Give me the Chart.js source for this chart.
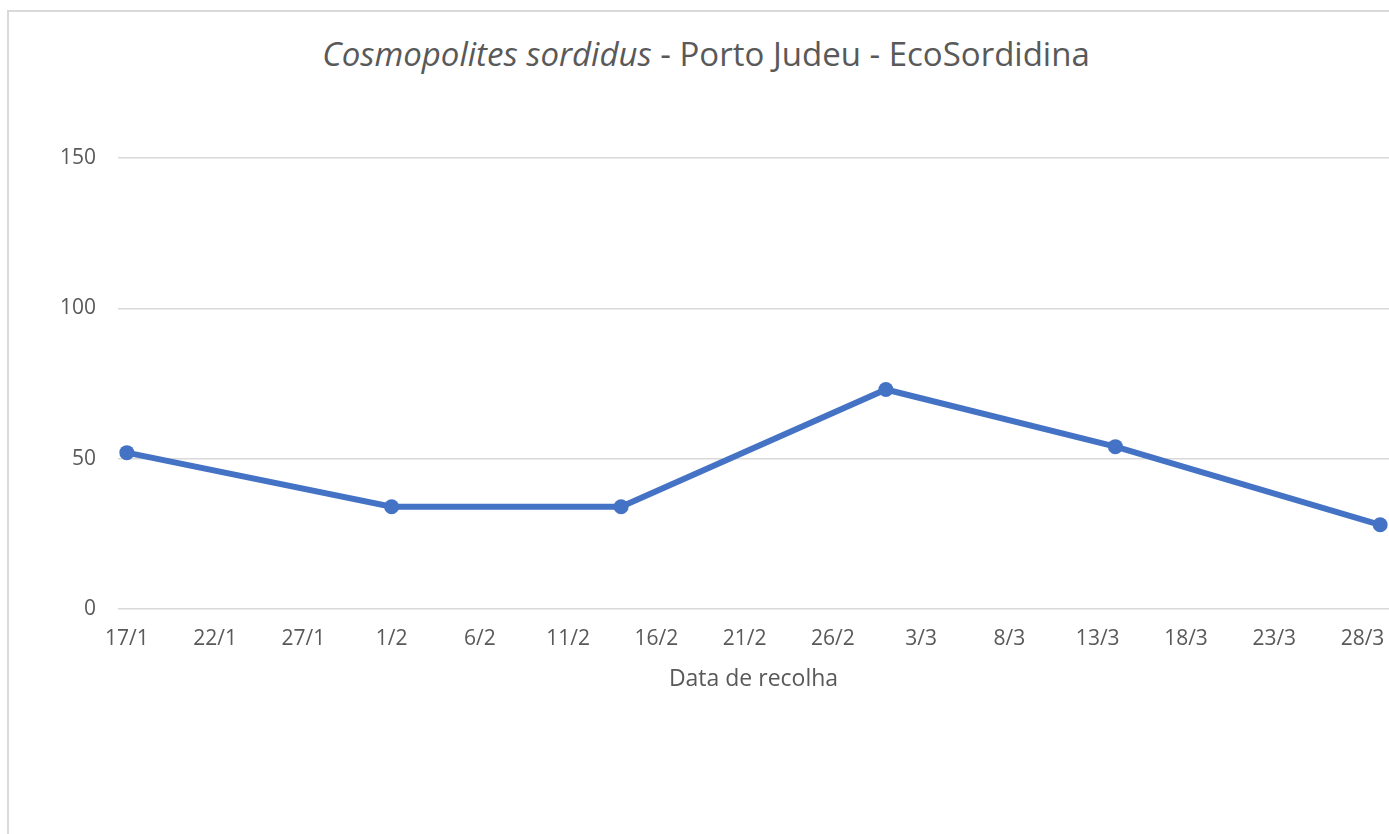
<!DOCTYPE html>
<html>
<head>
<meta charset="utf-8">
<script src="https://cdn.jsdelivr.net/npm/chart.js@4.4.1/dist/chart.umd.min.js"></script>
<style>
  html, body { margin: 0; background: #fff; }
  #wrap { position: relative; width: 1389px; height: 834px; overflow: hidden; }
  #frame { position: absolute; left: 7px; top: 10px; width: 1420px; height: 900px; border: 2px solid #d9d9d9; box-sizing: border-box; }
  #title { position: absolute; left: 0; top: 31px; width: 1412px; text-align: center;
           font-family: "Open Sans", sans-serif; font-size: 33px; color: #595959; white-space: nowrap; }
  #chart { position: absolute; left: 0; top: 0; }
</style>
</head>
<body>
<div id="wrap">
  <div id="frame"></div>
  <div id="title"><i>Cosmopolites sordidus</i> - Porto Judeu - EcoSordidina</div>
  <canvas id="chart" width="1389" height="834"></canvas>
</div>
<script>
// Datas de recolha (dia/mês) e número de insetos capturados
const collectionDates = ['17/1', '1/2', '14/2', '1/3', '14/3', '29/3'];
const captures = [52, 34, 34, 73, 54, 28];

// Etiquetas do eixo X (de 5 em 5 dias) e do eixo Y
const xTickLabels = ['17/1', '22/1', '27/1', '1/2', '6/2', '11/2', '16/2', '21/2',
                     '26/2', '3/3', '8/3', '13/3', '18/3', '23/3', '28/3'];
const xTickStep = 5;
const yTicks = [0, 50, 100, 150];

const YEAR = 2023;
const TEXT = '#595959';
const GRID = '#d9d9d9';
const BLUE = '#4472C4';
const FONT = '"Open Sans", sans-serif';

/** Dias decorridos desde a primeira recolha. */
function dayOffset(label) {
  const [d, m] = label.split('/').map(Number);
  const [d0, m0] = collectionDates[0].split('/').map(Number);
  return (Date.UTC(YEAR, m - 1, d) - Date.UTC(YEAR, m0 - 1, d0)) / 86400000;
}

const points = collectionDates.map((lbl, i) => ({ x: dayOffset(lbl), y: captures[i] }));
const lastDay = dayOffset(collectionDates[collectionDates.length - 1]);

new Chart(document.getElementById('chart'), {
  type: 'line',
  data: {
    datasets: [{
      label: 'Cosmopolites sordidus',
      data: points,
      borderColor: BLUE,
      backgroundColor: BLUE,
      borderWidth: 6,
      pointRadius: 7.5,
      pointBorderWidth: 0,
      pointBackgroundColor: BLUE,
      tension: 0,
      clip: false,
    }],
  },
  options: {
    responsive: false,
    animation: false,
    layout: { autoPadding: false, padding: { top: 158, right: 0, bottom: 125, left: 0 } },
    plugins: { legend: { display: false }, tooltip: { enabled: false } },
    scales: {
      x: {
        type: 'linear',
        min: -0.5,
        max: lastDay + 0.5,
        afterBuildTicks: (axis) => {
          axis.ticks = xTickLabels.map((_, i) => ({ value: i * xTickStep }));
        },
        afterFit: (axis) => {
          axis.height = 100;
          axis.paddingLeft = 0;
          axis.paddingRight = 0;
        },
        grid: { display: false, drawTicks: false },
        border: { display: false },
        ticks: {
          autoSkip: false,
          maxRotation: 0,
          padding: 17,
          color: TEXT,
          font: { family: FONT, size: 21 },
          callback: (v, i) => xTickLabels[i],
        },
        title: {
          display: true,
          text: 'Data de recolha',
          color: TEXT,
          font: { family: FONT, size: 23 },
          padding: { top: 0, bottom: 16 },
        },
      },
      y: {
        min: yTicks[0],
        max: yTicks[yTicks.length - 1],
        afterBuildTicks: (axis) => { axis.ticks = yTicks.map((v) => ({ value: v })); },
        afterFit: (axis) => {
          axis.width = 118;
          axis.paddingTop = 0;
          axis.paddingBottom = 0;
        },
        grid: { color: GRID, lineWidth: 1.5, drawTicks: false },
        border: { display: false },
        ticks: {
          padding: 22,
          color: TEXT,
          font: { family: FONT, size: 21 },
        },
      },
    },
  },
});
</script>
</body>
</html>
